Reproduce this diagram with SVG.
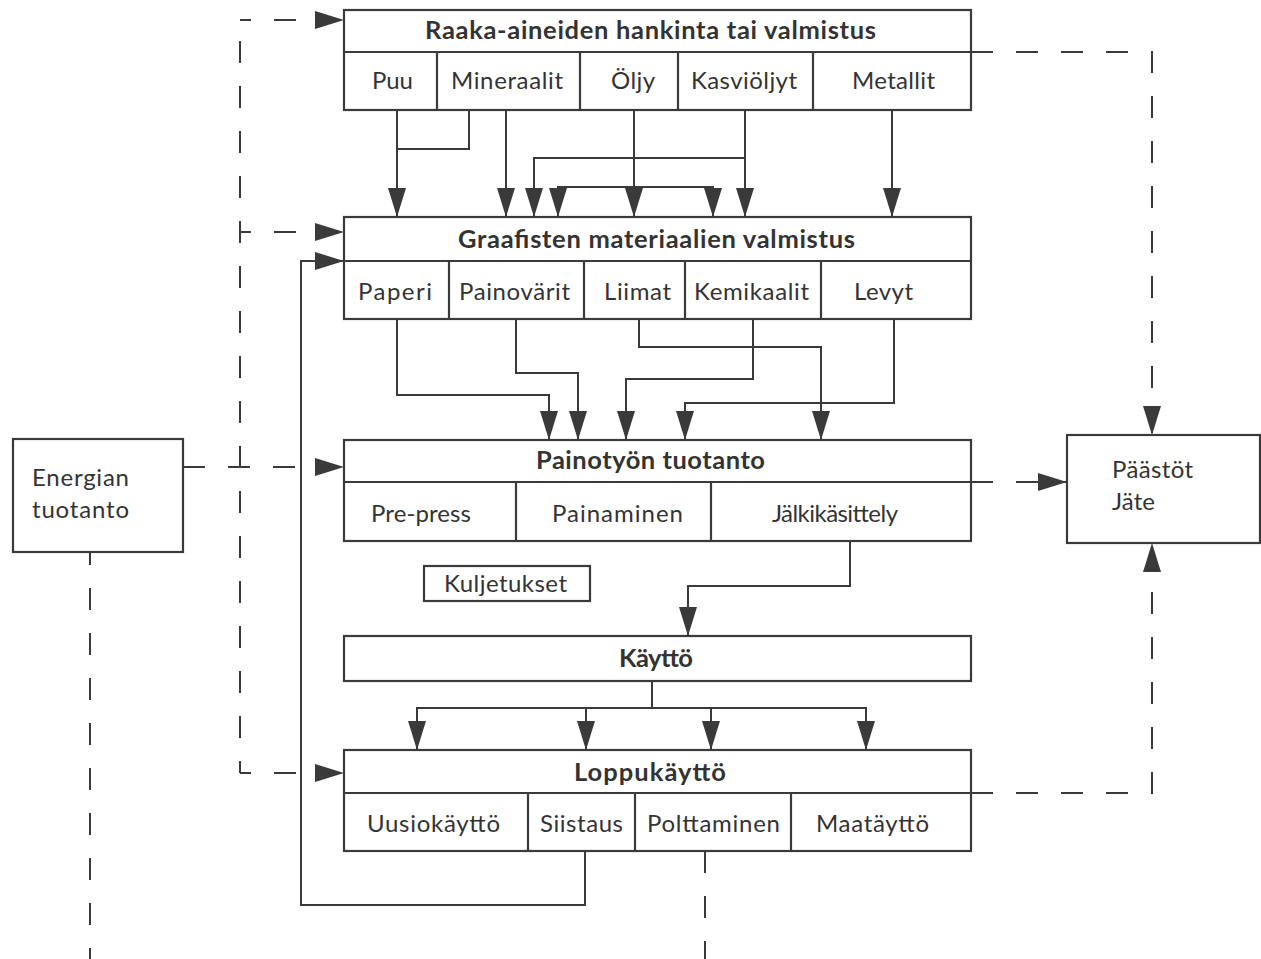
<svg xmlns="http://www.w3.org/2000/svg" width="1261" height="959" viewBox="0 0 1261 959">
<style>
.box{fill:#fff;stroke:#3a3a3a;stroke-width:2.2}
.div{stroke:#3a3a3a;stroke-width:2.2;fill:none}
.ln{fill:none;stroke:#3a3a3a;stroke-width:2}
.ds{fill:none;stroke:#3a3a3a;stroke-width:2;stroke-dasharray:22 23}
.t{font-family:Lato,"Noto Sans",sans-serif;font-size:24px;fill:#333}
.h{font-family:Lato,"Noto Sans",sans-serif;font-size:25.5px;font-weight:bold;fill:#333}
.m{text-anchor:middle}
</style>
<defs>
<marker id="ah" viewBox="0 0 29 18" refX="29" refY="9" markerWidth="29" markerHeight="18" markerUnits="userSpaceOnUse" orient="auto">
<path d="M0,0 L29,9 L0,18 z" fill="#3a3a3a"/>
</marker>
</defs>
<rect width="1261" height="959" fill="#fff"/>

<g id="connectors">
<path class="ln" d="M397,110 V217" marker-end="url(#ah)"/>
<path class="ln" d="M469,110 V149 H397"/>
<path class="ln" d="M506,110 V217" marker-end="url(#ah)"/>
<path class="ln" d="M634,110 V217" marker-end="url(#ah)"/>
<path class="ln" d="M745,110 V217" marker-end="url(#ah)"/>
<path class="ln" d="M745,158 H534 V217" marker-end="url(#ah)"/>
<path class="ln" d="M636,187 H558 V217" marker-end="url(#ah)"/>
<path class="ln" d="M636,187 H713 V217" marker-end="url(#ah)"/>
<path class="ln" d="M892,110 V217" marker-end="url(#ah)"/>
<path class="ln" d="M397,319 V395 H549 V440" marker-end="url(#ah)"/>
<path class="ln" d="M516,319 V373 H578 V440" marker-end="url(#ah)"/>
<path class="ln" d="M639,319 V347 H821 V440" marker-end="url(#ah)"/>
<path class="ln" d="M753,319 V379 H626 V440" marker-end="url(#ah)"/>
<path class="ln" d="M894,319 V403 H685 V440" marker-end="url(#ah)"/>
<path class="ln" d="M850,541 V586 H688 V636" marker-end="url(#ah)"/>
<path class="ln" d="M652,681 V708"/>
<path class="ln" d="M652,708 H417 V750" marker-end="url(#ah)"/>
<path class="ln" d="M586,708 V750" marker-end="url(#ah)"/>
<path class="ln" d="M652,708 H711 V750" marker-end="url(#ah)"/>
<path class="ln" d="M711,708 H866 V750" marker-end="url(#ah)"/>
<path class="ln" d="M585,851 V905 H301 V261 H344" marker-end="url(#ah)"/>
<path class="ds" style="stroke-dashoffset:11" d="M240,232 V20"/>
<path class="ds" style="stroke-dashoffset:11" d="M240,232 V773"/>
<path class="ds" style="stroke-dashoffset:11" d="M240,20 H344" marker-end="url(#ah)"/>
<path class="ds" style="stroke-dashoffset:11" d="M240,232 H344" marker-end="url(#ah)"/>
<path class="ds" style="stroke-dashoffset:11" d="M240,773 H344" marker-end="url(#ah)"/>
<path class="ds" d="M183,467 H344" marker-end="url(#ah)"/>
<path class="ds" style="stroke-dashoffset:9" d="M90,552 V959"/>
<path class="ds" d="M705,851 V959"/>
<path class="ds" d="M971,52 H1152 V435" marker-end="url(#ah)"/>
<path class="ds" d="M971,482 H1067" marker-end="url(#ah)"/>
<path class="ds" d="M971,793 H1152 V543" marker-end="url(#ah)"/>
</g>

<g id="raaka">
<rect class="box" x="344" y="10" width="627" height="100"/>
<path class="div" d="M344,52 H971 M437,52 V110 M580,52 V110 M678,52 V110 M813,52 V110"/>
<text class="h m" x="650.5" y="39" textLength="451" lengthAdjust="spacing">Raaka-aineiden hankinta tai valmistus</text>
<text class="t m" x="392.5" y="89" textLength="41">Puu</text>
<text class="t m" x="507" y="89" textLength="112">Mineraalit</text>
<text class="t m" x="633" y="89" textLength="44">Öljy</text>
<text class="t m" x="744" y="89" textLength="106">Kasviöljyt</text>
<text class="t m" x="893.5" y="89" textLength="83">Metallit</text>
</g>

<g id="graafiset">
<rect class="box" x="344" y="217" width="627" height="102"/>
<path class="div" d="M344,261 H971 M449,261 V319 M584,261 V319 M685,261 V319 M821,261 V319"/>
<text class="h m" x="656.5" y="248" textLength="397">Graafisten materiaalien valmistus</text>
<text class="t m" x="395" y="300" textLength="74">Paperi</text>
<text class="t m" x="514.5" y="300" textLength="111">Painovärit</text>
<text class="t m" x="637.5" y="300" textLength="67">Liimat</text>
<text class="t m" x="751.5" y="300" textLength="115">Kemikaalit</text>
<text class="t m" x="883.5" y="300" textLength="59">Levyt</text>
</g>

<g id="painotyo">
<rect class="box" x="344" y="440" width="627" height="101"/>
<path class="div" d="M344,482 H971 M516,482 V541 M711,482 V541"/>
<text class="h m" x="650.5" y="469" textLength="229">Painotyön tuotanto</text>
<text class="t m" x="421" y="522" textLength="100">Pre-press</text>
<text class="t m" x="617.5" y="522" textLength="131">Painaminen</text>
<text class="t m" x="835" y="522" textLength="126">Jälkikäsittely</text>
</g>

<g id="kuljetukset">
<rect class="box" x="424" y="566" width="166" height="35"/>
<text class="t m" x="505.5" y="592" textLength="123">Kuljetukset</text>
</g>

<g id="kaytto">
<rect class="box" x="344" y="636" width="627" height="45"/>
<text class="h m" x="656" y="667" textLength="74">Käyttö</text>
</g>

<g id="loppukaytto">
<rect class="box" x="344" y="750" width="627" height="101"/>
<path class="div" d="M344,793 H971 M528,793 V851 M635,793 V851 M791,793 V851"/>
<text class="h m" x="650" y="781" textLength="152">Loppukäyttö</text>
<text class="t m" x="433.5" y="832" textLength="133">Uusiokäyttö</text>
<text class="t m" x="581.5" y="832" textLength="83">Siistaus</text>
<text class="t m" x="713.5" y="832" textLength="133">Polttaminen</text>
<text class="t m" x="872.5" y="832" textLength="113">Maatäyttö</text>
</g>

<g id="energia">
<rect class="box" x="13" y="439" width="170" height="113"/>
<text class="t" x="32" y="486" textLength="97">Energian</text>
<text class="t" x="32" y="518" textLength="97">tuotanto</text>
</g>

<g id="paastot">
<rect class="box" x="1067" y="435" width="193" height="108"/>
<text class="t" x="1112" y="478" textLength="81">Päästöt</text>
<text class="t" x="1112" y="510" textLength="43">Jäte</text>
</g>
</svg>
